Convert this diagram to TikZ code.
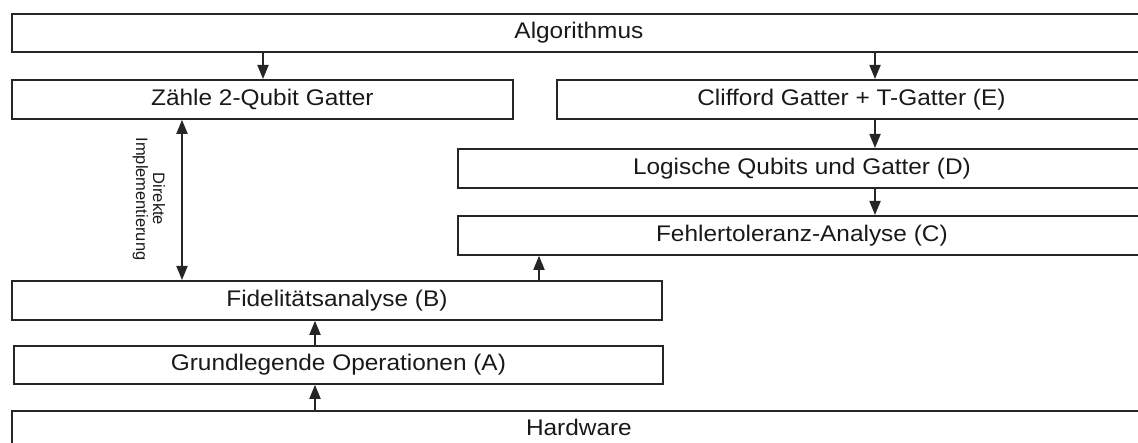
\documentclass[tikz,border=0pt]{standalone}
\usepackage{fontspec}
\setmainfont{Liberation Sans}[FakeStretch=1.08]
\newfontfamily\lblfont{Liberation Sans}
\usetikzlibrary{arrows.meta}
\tikzset{
  box/.style={draw=black!85, line width=1.8pt, inner sep=0pt, anchor=north west,
    font=\fontsize{22.6}{25}\selectfont, text=black!90},
  arr/.style={line width=1.8pt, draw=black!85, -{Triangle[length=14pt,width=11pt]}},
  darr/.style={line width=1.8pt, draw=black!85, {Triangle[length=14pt,width=11pt]}-{Triangle[length=14pt,width=11pt]}},
}
\begin{document}
\begin{tikzpicture}[x=1pt,y=-1pt]
\useasboundingbox (0,0) rectangle (1138,443);
\clip (0,0) rectangle (1138,443);
\node[box, minimum width=1134pt, minimum height=38pt] (alg) at (11,13) {Algorithmus};
\node[box, minimum width=501pt, minimum height=39pt] (zahle) at (11,79) {Zähle 2-Qubit Gatter};
\node[box, minimum width=589pt, minimum height=39pt] (cliff) at (556,79) {Clifford Gatter + T-Gatter (E)};
\node[box, minimum width=688pt, minimum height=39pt] (logq) at (457,148) {Logische Qubits und Gatter (D)};
\node[box, minimum width=688pt, minimum height=39pt] (fehl) at (457,215) {Fehlertoleranz-Analyse (C)};
\node[box, minimum width=650pt, minimum height=39pt] (fid) at (11,280) {Fidelitätsanalyse (B)};
\node[box, minimum width=649pt, minimum height=38pt] (grund) at (13,345) {Grundlegende Operationen (A)};
\node[box, minimum width=1134pt, minimum height=34pt] (hw) at (11,410) {Hardware};
\coordinate (xa) at (263,0);
\coordinate (xb) at (875,0);
\coordinate (xc) at (539,0);
\coordinate (xd) at (315,0);
\coordinate (xe) at (182,0);
\draw[arr] (alg.south -| xa) -- (zahle.north -| xa);
\draw[arr] (alg.south -| xb) -- (cliff.north -| xb);
\draw[arr] (cliff.south -| xb) -- (logq.north -| xb);
\draw[arr] (logq.south -| xb) -- (fehl.north -| xb);
\draw[arr] (fid.north -| xc) -- (fehl.south -| xc);
\draw[arr] (grund.north -| xd) -- (fid.south -| xd);
\draw[arr] (hw.north -| xd) -- (grund.south -| xd);
\draw[darr] (zahle.south -| xe) -- (fid.north -| xe);
\node[rotate=-90, align=center, inner sep=0pt, text=black!90,
  font=\lblfont\fontsize{16.5}{17}\selectfont] (lbl) at (149,199) {Direkte\\Implementierung};
\end{tikzpicture}
\end{document}
